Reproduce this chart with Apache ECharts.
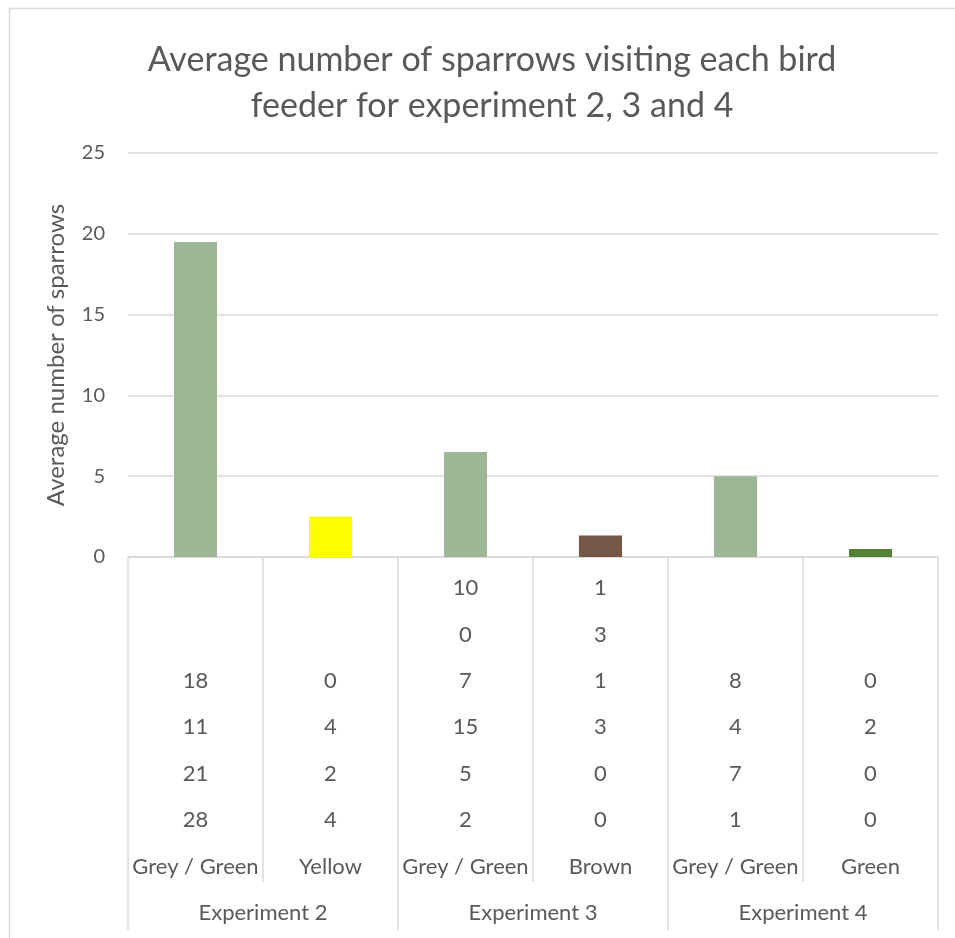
<!DOCTYPE html>
<html lang="en">
<head>
    <meta charset="UTF-8">
    <title>Sparrows per bird feeder</title>
    <script src="https://cdn.jsdelivr.net/npm/echarts@6/dist/echarts.min.js"></script>
    <style type="text/css">
        *{
            padding: 0px;
            margin: 0px;
            border: 0px;
        }
        #chart{
            width: 955px;
            height: 938px;
        }
    </style>
</head>
<body>
<div id="chart"></div>
<script>

    // feeder colours under each experiment
    var feeders = ['Grey / Green', 'Yellow', 'Grey / Green', 'Brown', 'Grey / Green', 'Green'];
    var experiments = ['Experiment 2', 'Experiment 3', 'Experiment 4'];

    // average number of sparrows (bar heights)
    var averages = [19.5, 2.5, 6.5, 1.33, 5, 0.5];

    // counts from each trial, shown in the table under the axis (top to bottom)
    var exp2GreyGreen = [18, 11, 21, 28];
    var exp2Yellow = [0, 4, 2, 4];
    var exp3GreyGreen = [10, 0, 7, 15, 5, 2];
    var exp3Brown = [1, 3, 1, 3, 0, 0];
    var exp4GreyGreen = [8, 4, 7, 1];
    var exp4Green = [0, 2, 0, 0];

    var yTicks = [0, 5, 10, 15, 20, 25];

    var barColors = ['#9CB696', '#FFFF00', '#9CB696', '#745845', '#9CB696', '#548235'];
    var textColor = '#595959';
    var lineColor = '#D9D9D9';
    var font = 'Lato';
    var tableFontSize = 22;

    // 把每列数据补齐成6行，空的放在上面
    var columns = [exp2GreyGreen, exp2Yellow, exp3GreyGreen, exp3Brown, exp4GreyGreen, exp4Green];
    var rowCount = 6;
    var rows = [];
    for (var r = 0; r < rowCount; r++) {
        rows.push(columns.map(function (col) {
            var idx = r - (rowCount - col.length);
            return idx >= 0 ? String(col[idx]) : '';
        }));
    }

    var axisTop = 557;
    var rowCenters = [588, 635, 681, 727, 774, 820];

    var xAxes = [{
        type: 'category',
        position: 'bottom',
        data: feeders,
        axisLine: { lineStyle: { color: lineColor, width: 1.5 } },
        axisTick: { show: true, length: 325, lineStyle: { color: lineColor, width: 1.5 } },
        axisLabel: { show: false }
    }];

    rows.forEach(function (row, i) {
        xAxes.push({
            type: 'category',
            position: 'bottom',
            data: feeders,
            axisLine: { show: false },
            axisTick: { show: false },
            axisLabel: {
                interval: 0,
                margin: rowCenters[i] - axisTop,
                verticalAlign: 'middle',
                color: textColor,
                fontFamily: font,
                fontSize: tableFontSize,
                formatter: function (v, idx) { return row[idx]; }
            }
        });
    });

    // feeder names row
    xAxes.push({
        type: 'category',
        position: 'bottom',
        data: feeders,
        axisLine: { show: false },
        axisTick: { show: false },
        axisLabel: {
            interval: 0,
            margin: 867 - axisTop,
            verticalAlign: 'middle',
            color: textColor,
            fontFamily: font,
            fontSize: tableFontSize
        }
    });

    // experiment group row
    xAxes.push({
        type: 'category',
        position: 'bottom',
        data: experiments,
        axisLine: { show: false },
        axisTick: { show: true, length: 373, lineStyle: { color: lineColor, width: 1.5 } },
        axisLabel: {
            interval: 0,
            margin: 913 - axisTop,
            verticalAlign: 'middle',
            color: textColor,
            fontFamily: font,
            fontSize: tableFontSize
        }
    });

    var option = {
        backgroundColor: '#ffffff',
        animation: false,
        title: {
            text: 'Average number of sparrows visiting each bird\nfeeder for experiment 2, 3 and 4',
            left: 487,
            top: 32,
            textAlign: 'center',
            textStyle: {
                color: textColor,
                fontFamily: font,
                fontWeight: 'normal',
                fontSize: 34,
                lineHeight: 46
            }
        },
        graphic: [{
            // chart frame: top and left edges only
            type: 'polyline',
            shape: { points: [[9.5, 938], [9.5, 8.5], [955, 8.5]] },
            style: { fill: 'none', stroke: lineColor, lineWidth: 1.5 },
            silent: true
        }],
        grid: {
            left: 128,
            right: 17,
            top: 153,
            bottom: 938 - axisTop,
            containLabel: false,
            outerBoundsMode: 'none'
        },
        xAxis: xAxes,
        yAxis: {
            type: 'value',
            min: yTicks[0],
            max: yTicks[yTicks.length - 1],
            interval: 5,
            name: 'Average number of sparrows',
            nameLocation: 'middle',
            nameGap: 60,
            nameTextStyle: { color: textColor, fontFamily: font, fontSize: 24 },
            axisLine: { show: false },
            axisTick: { show: false },
            axisLabel: { color: textColor, fontFamily: font, fontSize: 20, margin: 23 },
            splitLine: { lineStyle: { color: lineColor, width: 1.5 } }
        },
        series: [{
            type: 'bar',
            xAxisIndex: 0,
            barWidth: 43,
            data: averages.map(function (v, i) {
                return { value: v, itemStyle: { color: barColors[i] } };
            })
        }]
    };

    var chart = echarts.init(document.getElementById('chart'));
    chart.setOption(option);

</script>
</body>
</html>
